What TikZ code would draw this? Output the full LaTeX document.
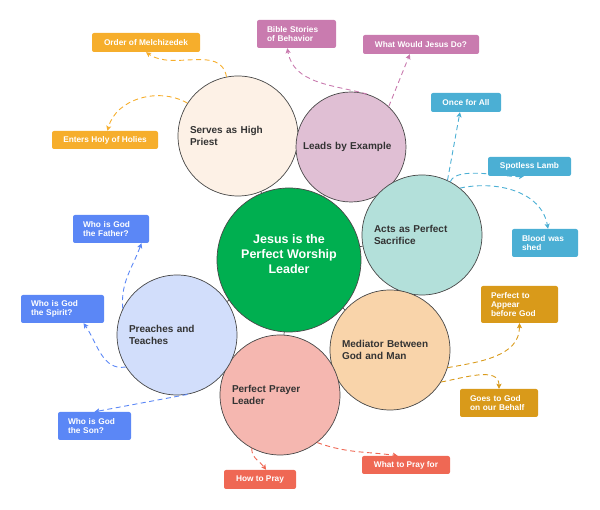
\documentclass[tikz,border=0pt]{standalone}
\usepackage{fontspec}
\setmainfont{Liberation Sans}
\usetikzlibrary{arrows.meta}

\definecolor{hubgreen}{HTML}{00AF50}
\definecolor{edge}{HTML}{474747}
\definecolor{ink}{HTML}{333333}
\definecolor{priestfill}{HTML}{FDF1E6}
\definecolor{priestleaf}{HTML}{F6AE2C}
\definecolor{examplefill}{HTML}{E0BFD4}
\definecolor{exampleleaf}{HTML}{C97BAF}
\definecolor{sacrificefill}{HTML}{B3E0DA}
\definecolor{sacrificeleaf}{HTML}{4BAFD4}
\definecolor{mediatorfill}{HTML}{F9D4AA}
\definecolor{mediatorleaf}{HTML}{D99A1A}
\definecolor{prayerfill}{HTML}{F5B7B0}
\definecolor{prayerleaf}{HTML}{EF6854}
\definecolor{preachfill}{HTML}{D2DEFB}
\definecolor{preachleaf}{HTML}{5B87F6}

\tikzset{
  hub/.style={circle, draw=edge, line width=0.7pt, fill=hubgreen, text=white,
    font=\fontsize{12.5}{15}\selectfont\bfseries, align=center,
    minimum size=144pt, inner sep=0pt, text depth=13pt},
  topic/.style={circle, draw=edge, line width=0.7pt, text=ink,
    font=\fontsize{10}{11.5}\selectfont\bfseries, text width=96pt, align=left,
    minimum size=120pt, inner sep=0pt},
  leaf/.style={rectangle, rounded corners=2pt, text=white,
    font=\fontsize{8.3}{9.4}\selectfont\bfseries, inner sep=0pt,
    minimum height=19pt},
  leafwide/.style={leaf, align=left, inner xsep=10pt, minimum height=28pt},
  link/.style={dash pattern=on 5pt off 3.5pt, line width=0.9pt,
    -{Stealth[length=5pt,width=5pt,inset=1pt]}},
  spoke/.style={draw=edge, line width=0.7pt}
}

\begin{document}
\begin{tikzpicture}[x=1pt,y=1pt]
  \useasboundingbox (0,0) rectangle (600,510);

  % centre and topics
  \node[hub] (lead) at (289,250) {Jesus is the\\Perfect Worship\\Leader};
  \node[topic, fill=priestfill] (priest) at (238,374) {Serves as High\\Priest};
  \node[topic, fill=examplefill, minimum size=110pt] (example) at (351,363) {Leads by Example};
  \node[topic, fill=sacrificefill] (sacrifice) at (422,275) {Acts as Perfect\\Sacrifice};
  \node[topic, fill=mediatorfill] (mediator) at (390,160) {Mediator Between\\God and Man};
  \node[topic, fill=prayerfill] (prayer) at (280,115) {Perfect Prayer\\Leader};
  \node[topic, fill=preachfill] (preach) at (177,175) {Preaches and\\Teaches};

  \draw[spoke] (lead) -- (priest);
  \draw[spoke] (lead) -- (example);
  \draw[spoke] (lead) -- (sacrifice);
  \draw[spoke] (lead) -- (mediator);
  \draw[spoke] (lead) -- (prayer);
  \draw[spoke] (lead) -- (preach);

  % leaves
  \node[leaf, fill=priestleaf, minimum width=108pt] (melch) at (146,467.5) {Order of Melchizedek};
  \node[leaf, fill=priestleaf, minimum width=106pt, minimum height=18pt] (holy) at (105,370) {Enters Holy of Holies};
  \node[leafwide, fill=exampleleaf, text width=59pt] (bible) at (296.5,476) {Bible Stories\\of Behavior};
  \node[leaf, fill=exampleleaf, minimum width=116pt] (wwjd) at (421,465.5) {What Would Jesus Do?};
  \node[leaf, fill=sacrificeleaf, minimum width=70pt] (once) at (466,407.5) {Once for All};
  \node[leaf, fill=sacrificeleaf, minimum width=83pt] (lamb) at (529.5,343.5) {Spotless Lamb};
  \node[leafwide, fill=sacrificeleaf, text width=46pt] (blood) at (545,267) {Blood was\\shed};
  \node[leafwide, fill=mediatorleaf, text width=57pt, minimum height=37pt] (appear) at (519.5,205.5) {Perfect to\\Appear\\before God};
  \node[leafwide, fill=mediatorleaf, text width=58pt] (behalf) at (499,107) {Goes to God\\on our Behalf};
  \node[leaf, fill=prayerleaf, minimum width=88pt, minimum height=18pt] (prayfor) at (406,45) {What to Pray for};
  \node[leaf, fill=prayerleaf, minimum width=72pt] (howpray) at (260,30.5) {How to Pray};
  \node[leafwide, fill=preachleaf, text width=56pt] (father) at (111,281) {Who is God\\the Father?};
  \node[leafwide, fill=preachleaf, text width=63pt] (spirit) at (62.5,201) {Who is God\\the Spirit?};
  \node[leafwide, fill=preachleaf, text width=53pt] (son) at (94.5,84) {Who is God\\the Son?};

  % links
  \draw[link, priestleaf] (priest.101) to[out=100, in=-35] (melch.south);
  \draw[link, priestleaf] (priest.147) to[out=150, in=75] (holy.75);
  \draw[link, exampleleaf] (example.73) to[out=165, in=-80] (bible.-123);
  \draw[link, exampleleaf] (example.47) -- (wwjd.-139);
  \draw[link, sacrificeleaf] (sacrifice.65) -- (once.-122);
  \draw[link, sacrificeleaf] (sacrifice.62) to[out=70, in=185, looseness=0.6] (lamb.-120);
  \draw[link, sacrificeleaf] (sacrifice.51) to[out=12, in=100] (blood.78);
  \draw[link, mediatorleaf] (mediator.-17) to[out=10, in=-90] (appear.south);
  \draw[link, mediatorleaf] (mediator.-32) to[out=10, in=90] (behalf.north);
  \draw[link, prayerleaf] (prayer.-118) to[out=-90, in=125] (howpray.58);
  \draw[link, prayerleaf] (prayer.-52) to[out=-20, in=172] (prayfor.132);
  \draw[link, preachleaf] (preach.154) to[out=95, in=-110] (father.-25);
  \draw[link, preachleaf] (preach.-148) to[out=190, in=-55] (spirit.-34);
  \draw[link, preachleaf] (preach.-80) -- (son.north);
\end{tikzpicture}
\end{document}
